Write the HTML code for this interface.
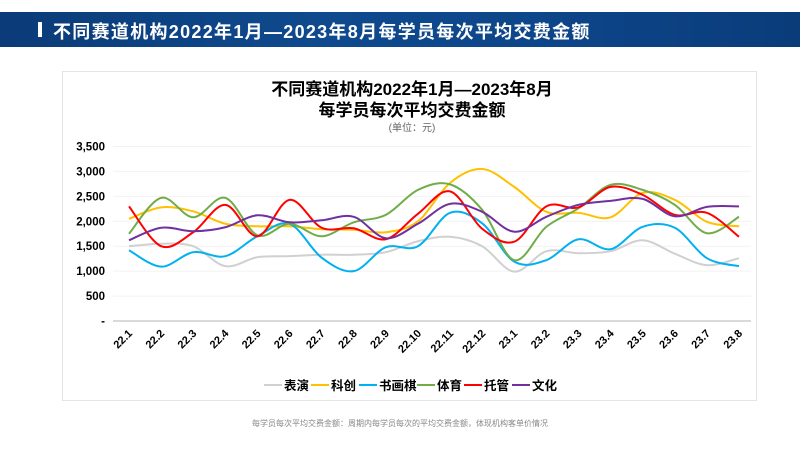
<!DOCTYPE html>
<html><head><meta charset="utf-8">
<style>
body{margin:0;width:800px;height:449px;background:#fff;font-family:"Liberation Sans","Noto Sans CJK SC",sans-serif;overflow:hidden;position:relative}
#hdr{position:absolute;left:0;top:12px;width:800px;height:35px;background:linear-gradient(90deg,#0b3b78,#0f4a8e 40%,#0d4589 70%,#0a3c7a);}
#hdr .bar{position:absolute;left:38px;top:10px;width:4px;height:15px;background:#fff}
#hdr .t{position:absolute;left:53px;top:6px;color:#fff;font-size:18px;font-weight:bold;letter-spacing:1.3px;white-space:nowrap}
#card{position:absolute;left:62px;top:71px;width:695px;height:330px;border:1px solid #e4e4e4;box-sizing:border-box}
#cap{position:absolute;left:0;width:800px;top:418px;text-align:center;font-size:8px;color:#888}
</style></head><body>
<div id="hdr"><div class="bar"></div><div class="t">不同赛道机构2022年1月—2023年8月每学员每次平均交费金额</div></div>
<div id="card"></div>
<svg id="ch" width="800" height="449" style="position:absolute;left:0;top:0">
<text x="412" y="95" text-anchor="middle" font-size="17" font-weight="bold" fill="#000">不同赛道机构2022年1月—2023年8月</text>
<text x="412" y="116" text-anchor="middle" font-size="17" font-weight="bold" fill="#000">每学员每次平均交费金额</text>
<text x="412" y="131" text-anchor="middle" font-size="10" fill="#666">(单位：元)</text>
<g id="grid"></g><g id="ylab"></g><g id="xlab"></g><g id="lines"></g><g id="legend"></g>
</svg>
<div id="cap">每学员每次平均交费金额：周期内每学员每次的平均交费金额，体现机构客单价情况</div>
<script>
const categories=["22.1","22.2","22.3","22.4","22.5","22.6","22.7","22.8","22.9","22.10","22.11","22.12","23.1","23.2","23.3","23.4","23.5","23.6","23.7","23.8"];
const seriesNames=["表演","科创","书画棋","体育","托管","文化"];
const seriesColors=["#d0d0d0","#ffc000","#00b0f0","#70ad47","#ff0000","#7030a0"];
const perf=[1500,1550,1500,1100,1280,1300,1330,1330,1380,1600,1690,1500,990,1400,1360,1400,1620,1350,1120,1260];
const tech=[2050,2280,2200,1950,1900,1900,1840,1830,1780,2000,2770,3050,2690,2190,2170,2080,2570,2430,1990,1900];
const art=[1420,1090,1380,1300,1700,1950,1270,1000,1480,1500,2170,1960,1190,1220,1640,1440,1890,1870,1260,1100];
const sport=[1750,2470,2080,2470,1720,1950,1700,1980,2130,2630,2740,2230,1220,1890,2260,2730,2630,2330,1760,2090];
const care=[2300,1500,1780,2330,1700,2430,1870,1860,1640,2150,2600,1850,1590,2300,2280,2690,2530,2130,2170,1690];
const culture=[1620,1870,1800,1880,2120,1980,2020,2090,1660,1950,2350,2190,1790,2090,2330,2410,2450,2100,2290,2300];
const yTicks=[0,500,1000,1500,2000,2500,3000,3500];
const yTickLabels=["-","500","1,000","1,500","2,000","2,500","3,000","3,500"];
const NS="http://www.w3.org/2000/svg";
const X0=129,X1=739,Y0=321,YT=146.5,YMAX=3500;
const xs=i=>X0+i*(X1-X0)/(categories.length-1);
const ys=v=>Y0-v*(Y0-YT)/YMAX;
function mk(t,a,p){const e=document.createElementNS(NS,t);for(const k in a)e.setAttribute(k,a[k]);p.appendChild(e);return e;}
const grid=document.getElementById('grid'),ylab=document.getElementById('ylab'),xlab=document.getElementById('xlab'),lines=document.getElementById('lines'),leg=document.getElementById('legend');
yTicks.forEach((v,i)=>{
 const l=mk('line',{x1:113,x2:751,y1:ys(v),y2:ys(v),stroke:v===0?'#d9d9d9':'#f2f2f2','stroke-width':v===0?2:1},grid);
 
 
 const t=mk('text',{x:105,y:ys(v)+4,'text-anchor':'end','font-size':11.5,'font-weight':'bold',fill:'#000'},ylab);
 t.textContent=yTickLabels[i];
 
 
});
categories.forEach((c,i)=>{
 const x=xs(i)+4,y=334;
 const t=mk('text',{x:x,y:y,'text-anchor':'end','font-size':11,'font-weight':'bold',fill:'#000',transform:`rotate(-45 ${x} ${y})`},xlab);
 t.textContent=c;
 
 
});
function smooth(pts){let d=`M${pts[0][0]},${pts[0][1]}`;const k=1/6;
 for(let i=0;i<pts.length-1;i++){const p0=pts[Math.max(0,i-1)],p1=pts[i],p2=pts[i+1],p3=pts[Math.min(pts.length-1,i+2)];
 d+=` C${p1[0]+(p2[0]-p0[0])*k},${p1[1]+(p2[1]-p0[1])*k} ${p2[0]-(p3[0]-p1[0])*k},${p2[1]-(p3[1]-p1[1])*k} ${p2[0]},${p2[1]}`;}return d;}
const allSeries=[perf,tech,art,sport,care,culture];
const slugs=["series-performance","series-tech","series-art-chess","series-sports","series-care","series-culture"];
allSeries.forEach((s,j)=>{
 const p=mk('path',{d:smooth(s.map((v,i)=>[xs(i),ys(v)])),fill:'none',stroke:seriesColors[j],'stroke-width':2},lines);
 
 
});
const lx=[284,331,379,437,484,532];
seriesNames.forEach((n,j)=>{
 const g=mk('g',{},leg);
 
 
 mk('line',{x1:lx[j]-20,x2:lx[j]-2,y1:385,y2:385,stroke:seriesColors[j],'stroke-width':2},g);
 const t=mk('text',{x:lx[j],y:390,'font-size':12.5,'font-weight':'bold',fill:'#000'},g);
 t.textContent=n;
});
</script>
</body></html>
